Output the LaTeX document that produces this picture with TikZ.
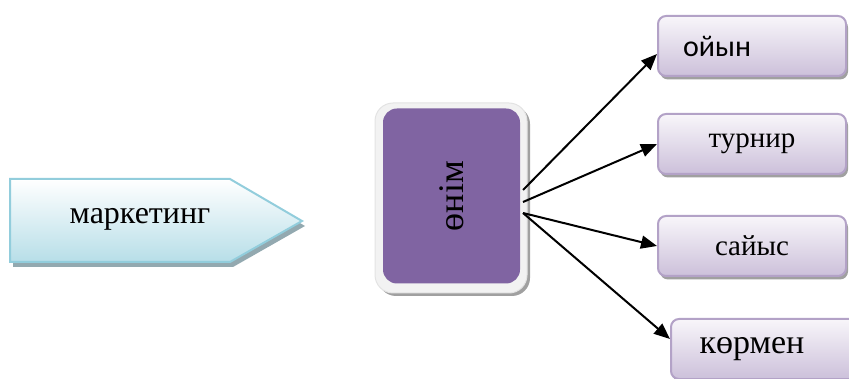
\documentclass[tikz,border=0pt]{standalone}
\usepackage{fontspec}
\setmainfont{Liberation Serif}
\newfontfamily\calib{Carlito}
\usetikzlibrary{shadows,arrows.meta,calc}
\definecolor{lav}{HTML}{B3A2C7}
\definecolor{lavlo}{HTML}{CCC0DA}
\definecolor{lavhi}{HTML}{F8F6FA}
\definecolor{purp}{HTML}{8064A2}
\definecolor{blueline}{HTML}{92CDDC}
\definecolor{bluelo}{HTML}{B7DEE8}
\definecolor{shad}{HTML}{A0A0A0}
\definecolor{blueshad}{HTML}{93A9B0}
\definecolor{framefill}{HTML}{F2F2F2}
\definecolor{frameline}{HTML}{E3E3E3}
\begin{document}
\begin{tikzpicture}[x=1pt,y=-1pt,
  item/.style={draw=lav, line width=2pt, rounded corners=8pt, top color=lavhi, bottom color=lavlo,
    minimum width=188pt, minimum height=60pt, anchor=north west, inner sep=0pt,
    drop shadow={shadow xshift=2pt,shadow yshift=-3.5pt,fill=shad,opacity=1}},
  conn/.style={line width=2pt, -{Triangle[length=16pt,width=13pt]}},
  big/.style={font=\fontsize{29}{31}\selectfont},
]
\useasboundingbox (0,0) rectangle (849,379);
\clip (0,0) rectangle (849,379);

% marketing pentagon
\fill[blueshad] (13,184) -- (233,184) -- (305,226) -- (233,267) -- (13,267) -- cycle;
\draw[draw=blueline, line width=2pt, top color=white, bottom color=bluelo]
  (10,179) -- (230,179) -- (302,221) -- (230,262) -- (10,262) -- cycle;
\node[font=\fontsize{32}{34}\selectfont] (mk) at (140,219) {маркетинг};

% product box
\node[fill=framefill, draw=frameline, line width=1pt, rounded corners=18pt,
  minimum width=152pt, minimum height=190pt,
  drop shadow={shadow xshift=3pt,shadow yshift=-3pt,fill=shad,opacity=1}]
  (frame) at (451,198) {};
\node[fill=purp, rounded corners=14pt, rotate=90, minimum width=175pt, minimum height=137pt,
  font=\fontsize{36}{38}\selectfont] (onim) at (451.5,196) {өнім};

% right boxes
\node[item, inner xsep=25pt, text width=138pt, align=left, font=\calib\fontsize{30}{32}\selectfont]
  (oyin) at (657,15) {ойын};
\node[item, big] (turnir) at (657,113) {\raisebox{-2pt}{турнир}};
\node[item, big] (saiys) at (657,215) {сайыс};
\node[item, font=\fontsize{34}{36}\selectfont, minimum width=200pt] (korme) at (670,318) {\hspace*{-38pt}\raisebox{-3pt}{көрмен}};

% connectors
\coordinate (s1) at (523,190);
\coordinate (s2) at (523,202);
\coordinate (s3) at (523,213);
\coordinate (t1) at ($(oyin.west)+(0,8)$);
\coordinate (t4) at ($(korme.north west)+(0,21)$);
\draw[conn] (s1) -- (t1);
\draw[conn] (s2) -- (turnir.west);
\draw[conn] (s3) -- (saiys.west);
\draw[conn] (s3) -- (t4);
\end{tikzpicture}
\end{document}
